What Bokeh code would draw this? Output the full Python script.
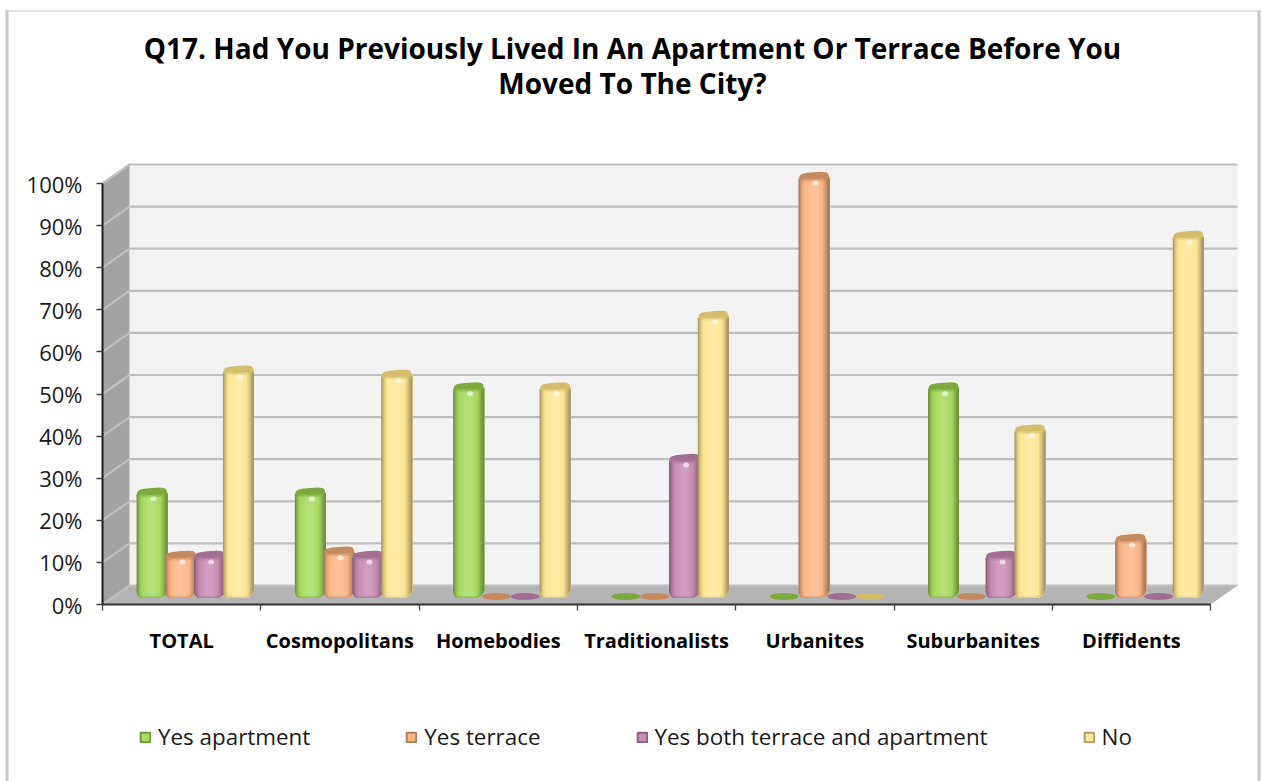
import numpy as np
from bokeh.core.properties import value
from bokeh.embed import file_html
from bokeh.resources import INLINE
from bokeh.plotting import figure
from bokeh.models import FixedTicker, Legend, LegendItem, LinearAxis, PrintfTickFormatter, Range1d

# ---- data ----
categories = ["TOTAL", "Cosmopolitans", "Homebodies", "Traditionalists", "Urbanites", "Suburbanites", "Diffidents"]
yes_apartment = [25, 25, 50, 0, 0, 50, 0]
yes_terrace = [10, 11, 0, 0, 100, 0, 14]
yes_both = [10, 10, 0, 33, 0, 10, 0]
no_answer = [54, 53, 50, 67, 0, 40, 86]
series_names = ["Yes apartment", "Yes terrace", "Yes both terrace and apartment", "No"]
title_lines = ["Q17. Had You Previously Lived In An Apartment Or Terrace Before You", "Moved To The City?"]
y_ticks = [0, 10, 20, 30, 40, 50, 60, 70, 80, 90, 100]

# ---- styling ----
FONT = "Open Sans"
base_colors = ["#A6DA60", "#FBB687", "#C88CB4", "#FFE696"]
cap_colors = ["#7BAA3F", "#C58A5F", "#A26F93", "#D6BD6E"]
edge_colors = ["#6F9A3A", "#B07F58", "#8E5F80", "#B09E64"]

W, H = 1261, 781
AX_L, AX_B = 102, 604      # page pixel of the value 0 / first category
PX_X, PX_Y = 158.3, 4.21   # pixels per category, pixels per percent
ux = 1 / PX_X
uy = 1 / PX_Y
DX, DY = 27 * ux, 19 * uy  # depth of the 3D box


def X(px):
    return (px - AX_L) * ux


def Y(py):
    return (AX_B - py) * uy


p = figure(width=W, height=H, output_backend="svg", toolbar_location=None,
           x_axis_type=None, y_axis_type=None,
           x_range=Range1d(X(0), X(W)), y_range=Range1d(Y(H), Y(0)),
           min_border=0, outline_line_color=None,
           background_fill_color="white", border_fill_color="white")
p.grid.visible = False

# ---- chart border ----
BORDER = "#C8C8C8"
p.quad(left=[X(5), X(1257), X(5)], right=[X(8), X(1260), X(1260)], top=[Y(10), Y(10), Y(10)],
       bottom=[Y(H), Y(H), Y(11)], fill_color=BORDER, line_color=None)

# ---- walls ----
n = len(categories)
p.patch([DX, n + DX, n + DX, DX], [DY, DY, 100 + DY, 100 + DY], fill_color="#F2F2F2", line_color=None)
p.patch([0, DX, DX, 0], [0, DY, 100 + DY, 100], fill_color="#A3A3A3", line_color=None)
p.patch([0, n, n + DX, DX], [0, 0, DY, DY], fill_color="#B4B4B4", line_color=None)
for t in y_ticks:
    p.line([0, DX, n + DX], [t, t + DY, t + DY], line_color="#BFBFBF", line_width=2.2)

# ---- bars ----
T = np.array([0, .05, .12, .2, .42, .58, .76, .86, .93, 1.0])
M = np.array([.62, .76, .92, 1.0, 1.05, 1.05, 1.0, .86, .72, .62])


def shade(hex_color, m):
    rgb = np.array([int(hex_color[i:i + 2], 16) for i in (1, 3, 5)], float)
    if m > 1:
        rgb = rgb + (255 - rgb) * (m - 1) * 3
    else:
        rgb = rgb * m
    return "#%02x%02x%02x" % tuple(int(round(c)) for c in np.clip(rgb, 0, 255))


BAR_W = 31 * ux
PITCH = 28.8 * ux
OFF = 34 * ux
BASE = 6.5 * uy
NS = 24
edge_t = np.linspace(0, 1, NS + 1)
top_px = np.interp(edge_t, [0, .04, .1, .25, .5, .75, .9, .97, 1], [-2, 1.5, 3, 4, 4.8, 5.2, 4.8, 3, -1])
low_px = np.interp(edge_t, [0, .06, .25, .5, .8, .92, 1], [-2, -1.4, -2, -2.2, -1.7, -1.2, -1])
bot_px = np.interp(edge_t, [0, .03, .08, .15, .72, .82, .92, .97, 1], [6, 3, 1, 0, 0, .8, 3, 5, 8])

all_series = [yes_apartment, yes_terrace, yes_both, no_answer]
legend_items = []
for c in range(n):
    for s in range(4):
        v = all_series[s][c]
        L = c + OFF + s * PITCH
        if v == 0:
            p.ellipse([L + 14.5 * ux], [BASE + 1.5 * uy], width=29 * ux, height=7 * uy,
                      fill_color=cap_colors[s], line_color=None)
            continue
        y0 = BASE + v
        xs, ys, cols = [], [], []
        for i in range(NS):
            sel = edge_t >= edge_t[i]
            xx = L + edge_t[sel] * BAR_W
            tops = y0 + low_px[sel] * uy
            bots = BASE + bot_px[sel] * uy
            xs.append(np.concatenate([xx, xx[::-1]]).tolist())
            ys.append(np.concatenate([tops, bots[::-1]]).tolist())
            cols.append(shade(base_colors[s], float(np.interp((edge_t[i] + edge_t[i + 1]) / 2, T, M))))
        p.patches(xs, ys, fill_color=cols, line_color=None)
        edge_x = L + edge_t * BAR_W
        # soft shading below the cap and along the foot of the bar
        for lift, alpha in [(2.5, .35), (1.2, .35)]:
            band_y = np.concatenate([y0 + low_px * uy, (y0 + (low_px - lift) * uy)[::-1]])
            p.patch(np.concatenate([edge_x, edge_x[::-1]]).tolist(), band_y.tolist(),
                    fill_color=cap_colors[s], fill_alpha=alpha, line_color=None)
        for lift, alpha in [(2.2, .3), (1.0, .4)]:
            band_y = np.concatenate([BASE + bot_px * uy, (BASE + (bot_px + lift) * uy)[::-1]])
            p.patch(np.concatenate([edge_x, edge_x[::-1]]).tolist(), band_y.tolist(),
                    fill_color=cap_colors[s], fill_alpha=alpha, line_color=None)
        # top cap
        capy = np.concatenate([y0 + top_px * uy, (y0 + low_px * uy)[::-1]])
        p.patch(np.concatenate([edge_x, edge_x[::-1]]).tolist(), capy.tolist(),
                fill_color=cap_colors[s], line_color=None)
        p.ellipse([L + .55 * BAR_W], [y0 - 6 * uy], width=6 * ux, height=5 * uy,
                  fill_color="#FFFFFF", fill_alpha=.6, line_color=None)

# ---- axes ----
cat_centres = [i + .5 for i in range(n)]
xaxis = LinearAxis(ticker=FixedTicker(ticks=cat_centres, minor_ticks=list(range(n + 1))),
                   bounds=(0, n), fixed_location=0,
                   major_label_overrides={c: l for c, l in zip(cat_centres, categories)},
                   major_tick_line_color=None, major_tick_out=0, major_tick_in=0,
                   minor_tick_line_color="#404040", minor_tick_out=6, minor_tick_in=0, minor_tick_line_width=1.3,
                   axis_line_color="#303030", axis_line_width=2,
                   major_label_text_font=FONT, major_label_text_font_style="bold",
                   major_label_text_font_size="20px", major_label_text_color="#000000",
                   major_label_standoff=16)
p.add_layout(xaxis, "below")
yaxis = LinearAxis(ticker=FixedTicker(ticks=y_ticks, minor_ticks=[]), bounds=(0, 100), fixed_location=0,
                   formatter=PrintfTickFormatter(format="%d%%"),
                   major_tick_line_color="#404040", major_tick_out=6, major_tick_in=0, major_tick_line_width=1.3,
                   axis_line_color="#1A1A1A", axis_line_width=2,
                   major_label_text_font=FONT, major_label_text_font_size="22px",
                   major_label_text_color="#1A1A1A", major_label_standoff=14)
p.add_layout(yaxis, "left")

# ---- title ----
p.text([X(632), X(632)], [Y(47), Y(82)], text=title_lines, text_align="center", text_baseline="middle",
       text_font=value(FONT), text_font_style="bold", text_font_size="28px", text_color="#000000")

# ---- legend ----
for s, name in enumerate(series_names):
    r = p.quad(left=[np.nan], right=[np.nan], top=[np.nan], bottom=[np.nan],
               fill_color=base_colors[s], line_color=edge_colors[s], line_width=2)
    legend_items.append(LegendItem(label=name, renderers=[r]))
legend = Legend(items=legend_items, orientation="horizontal", location=(139, H - 737 - 15),
                background_fill_alpha=0, border_line_color=None, spacing=95, glyph_width=12, glyph_height=12,
                label_standoff=7, label_text_font=FONT, label_text_font_size="22.4px", label_text_color="#1A1A1A",
                margin=0, padding=6)
p.add_layout(legend, "center")

open("out.html", "w").write(file_html(p, INLINE))
